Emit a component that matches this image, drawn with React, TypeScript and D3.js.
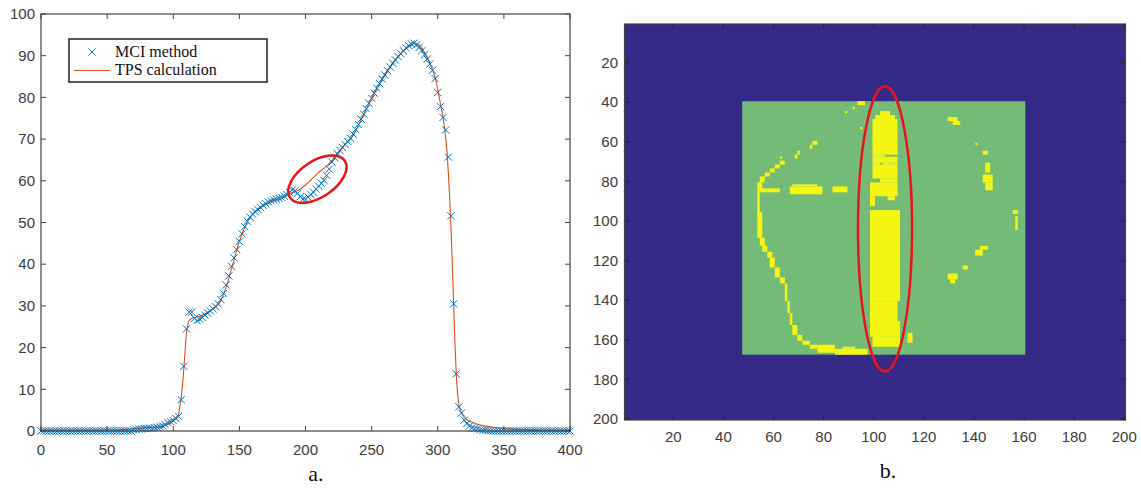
import React from "react";
import * as d3 from "d3";

// ---------- Panel a: MCI method vs TPS calculation ----------
const mciStep = 2; // x spacing of MCI samples (0..400)
const mciValues: number[] = [
  0, 0, 0, 0, 0, 0, 0, 0, 0, 0,
  0, 0, 0, 0, 0, 0, 0, 0, 0, 0,
  0, 0, 0, 0, 0, 0, 0, 0, 0, 0,
  0, 0, 0, 0, 0, 0.3, 0.4, 0.5, 0.5, 0.6,
  0.6, 0.7, 0.6, 0.8, 0.9, 1, 1.2, 1.5, 2, 2.2,
  2.5, 3, 3.5, 7.5, 15.5, 24.5, 28.5, 28.5, 27, 26.5,
  26.8, 27.2, 27.8, 28.3, 28.8, 29.3, 29.8, 30.5, 31.5, 33,
  35, 37.2, 39.5, 41.5, 43.5, 45.5, 47.3, 49, 50.3, 51.3,
  52, 52.6, 53.1, 53.6, 54.1, 54.5, 54.9, 55.2, 55.4, 55.6,
  55.8, 56, 56.3, 56.7, 57.2, 57.8, 57.6, 57, 56.2, 55.6,
  55.6, 56.1, 56.7, 57.3, 58, 58.7, 59.4, 60.1, 61.3, 62.8,
  64.5, 65.5, 66.5, 67.3, 68, 68.7, 69.4, 70.2, 71.2, 72.3,
  73.5, 74.8, 76, 77.3, 78.6, 79.8, 81, 82.2, 83.3, 84.4,
  85.4, 86.4, 87.3, 88.2, 89, 89.8, 90.5, 91.2, 91.9, 92.4,
  92.8, 93, 92.6, 92, 91.2, 90.2, 89.2, 88, 86.5, 84.5,
  81.2, 77.8, 75.2, 72.2, 65.7, 51.6, 30.5, 13.7, 5.8, 4.3,
  2.6, 1.8, 1.2, 0.8, 0.6, 0.5, 0.3, 0.2, 0.2, 0.1,
  0, 0, 0, 0, 0, 0, 0, 0, 0, 0,
  0, 0, 0, 0, 0, 0, 0, 0, 0, 0,
  0, 0, 0, 0, 0, 0, 0, 0, 0, 0,
  0,
];

const tpsX: number[] = [
  0, 20, 40, 60, 70, 80, 90, 95, 100, 103, 104, 105, 106, 107, 108, 109, 110, 111, 112, 114, 116, 120,
  125, 130, 135, 140, 145, 150, 155, 160, 165, 170, 175, 180, 185, 190, 195, 200, 205, 210, 215, 220,
  225, 230, 235, 240, 245, 250, 255, 260, 265, 270, 275, 280, 283, 286, 290, 294, 298, 302, 305, 307,
  308, 309, 310, 311, 312, 313, 314, 315, 316, 318, 320, 325, 330, 340, 350, 360, 380, 400,
];
const tpsY: number[] = [
  0.2, 0.2, 0.2, 0.3, 0.5, 0.8, 1, 1.5, 2.5, 3.5, 4, 6, 8, 11, 15, 19.5, 23.5, 25.5, 26.5, 27, 27.2, 27.5,
  28.3, 29.3, 30.8, 34.5, 40, 45.5, 49.5, 52, 53.5, 54.5, 55.2, 55.7, 56.3, 57.2, 57.8, 59, 60.5, 62, 63.3, 64.8,
  66.7, 68.8, 70.4, 73.3, 76.6, 79.8, 82.7, 85.4, 87.7, 89.8, 91.4, 92.6, 93, 92.5, 90.8, 88.2, 84.8, 78.5, 73, 67,
  62, 56, 49, 40, 30.5, 21, 13.7, 9, 6.3, 4.3, 3.3, 2.2, 1.6, 1, 0.6, 0.4, 0.25, 0.2,
];

const aXTicks = [0, 50, 100, 150, 200, 250, 300, 350, 400];
const aYTicks = [0, 10, 20, 30, 40, 50, 60, 70, 80, 90, 100];
const legendLabels = ["MCI method", "TPS calculation"];
const aHighlight = { x: 209, y: 60.4 }; // centre of red ellipse (data units)

// ---------- Panel b: labelled image (200 x 200) ----------
const imgSize = 200;
const bTicks = [20, 40, 60, 80, 100, 120, 140, 160, 180, 200];
// green region [colStart, colEnd, rowStart, rowEnd]
const greenRegion = [48, 160, 40, 167];
// yellow pixel blocks [colStart, colEnd, rowStart, rowEnd]
const yellowBlocks: number[][] = [
  // main vertical stripe
  [103, 106, 45, 46], [101, 108, 47, 48], [100, 109, 49, 66],
  [100, 104, 67, 67], [100, 109, 68, 70], [100, 102, 71, 71], [104, 109, 71, 71], [100, 109, 72, 78],
  [103, 109, 79, 80], [99, 109, 81, 87], [99, 100, 88, 92], [106, 108, 88, 89], [99, 110, 95, 140],
  [99, 109, 141, 150], [99, 110, 151, 158], [100, 110, 159, 163], [114, 115, 157, 161],
  // left outline
  [63, 64, 70, 71], [61, 62, 72, 73], [59, 60, 74, 75], [57, 58, 76, 77], [55, 56, 78, 80],
  [54, 55, 81, 84], [54, 54, 85, 95], [54, 55, 96, 108], [55, 56, 109, 112], [56, 57, 113, 115],
  [58, 59, 116, 118], [59, 60, 119, 123], [61, 62, 124, 128], [63, 64, 129, 131], [65, 65, 132, 140],
  [66, 66, 141, 146], [67, 67, 147, 152], [68, 69, 153, 157], [70, 71, 158, 160], [72, 74, 161, 162],
  [75, 77, 163, 164], [78, 84, 163, 166], [85, 97, 165, 167], [88, 92, 164, 164],
  // dashes and dots in the left half
  [55, 62, 84, 85], [68, 77, 82, 82], [67, 79, 83, 86], [84, 89, 83, 85],
  [76, 77, 60, 61], [75, 75, 62, 63], [70, 70, 65, 66], [69, 69, 67, 68], [63, 63, 68, 68],
  [89, 89, 45, 45], [92, 92, 43, 43], [95, 95, 53, 53], [94, 96, 40, 41],
  // right half speckles
  [130, 133, 48, 49], [132, 134, 50, 51], [141, 141, 61, 61], [144, 145, 65, 66], [145, 146, 71, 75],
  [144, 147, 77, 80], [145, 147, 81, 84], [156, 157, 95, 96], [157, 157, 98, 104], [143, 145, 113, 114],
  [141, 143, 115, 117], [136, 137, 123, 124], [130, 133, 127, 129], [131, 132, 130, 131],
];
const bHighlight = { col: 104.5, row: 104, rCol: 10.8, rRow: 72 };

const W = 1141;
const H = 488;

export default function App() {
  // panel a scales
  const xA = d3.scaleLinear().domain([0, 400]).range([41, 570]);
  const yA = d3.scaleLinear().domain([0, 100]).range([431, 14]);
  const mciPts = mciValues.map((v, i) => [i * mciStep, v] as [number, number]);
  const tpsPts = tpsX.map((x, i) => [x, tpsY[i]] as [number, number]);
  const line = d3
    .line<[number, number]>()
    .x((d) => xA(d[0]))
    .y((d) => yA(d[1]))
    .curve(d3.curveMonotoneX);

  // panel b scales
  const xB = d3.scaleLinear().domain([0.5, imgSize + 0.5]).range([624.5, 1125.5]);
  const yB = d3.scaleLinear().domain([0.5, imgSize + 0.5]).range([24, 420]);
  const cellRect = (b: number[]) => ({
    x: xB(b[0] - 0.5),
    y: yB(b[2] - 0.5),
    width: xB(b[1] + 0.5) - xB(b[0] - 0.5),
    height: yB(b[3] + 0.5) - yB(b[2] - 0.5),
  });

  const axisColor = "#444";
  const tickText = "#3c3c3c";
  const tickFont = "'Liberation Sans', Arial, sans-serif";
  const serif = "'Liberation Serif', 'Times New Roman', serif";
  const m = 3.6; // marker half size

  const g = cellRect(greenRegion);

  return (
    <svg
      width={W}
      height={H}
      style={{ position: "absolute", left: 0, top: 0, background: "#fff" }}
      xmlns="http://www.w3.org/2000/svg"
    >
      {/* ================= Panel a ================= */}
      <g>
        <path d={line(tpsPts) || ""} fill="none" stroke="#D95319" strokeWidth={1.1} />
        {mciPts.map((d, i) => {
          const cx = xA(d[0]);
          const cy = yA(d[1]);
          return (
            <path
              key={i}
              d={`M${cx - m},${cy - m}L${cx + m},${cy + m}M${cx - m},${cy + m}L${cx + m},${cy - m}`}
              stroke="#0072BD"
              strokeWidth={1}
              fill="none"
            />
          );
        })}
        {/* frame */}
        <rect
          x={xA(0)}
          y={yA(100)}
          width={xA(400) - xA(0)}
          height={yA(0) - yA(100)}
          fill="none"
          stroke={axisColor}
          strokeWidth={1.2}
        />
        {aXTicks.map((t) => (
          <g key={"ax" + t}>
            <line x1={xA(t)} x2={xA(t)} y1={yA(0)} y2={yA(0) - 5} stroke={axisColor} />
            <line x1={xA(t)} x2={xA(t)} y1={yA(100)} y2={yA(100) + 5} stroke={axisColor} />
            <text x={xA(t)} y={455} textAnchor="middle" fontFamily={tickFont} fontSize={15} fill={tickText}>
              {t}
            </text>
          </g>
        ))}
        {aYTicks.map((t) => (
          <g key={"ay" + t}>
            <line x1={xA(0)} x2={xA(0) + 5} y1={yA(t)} y2={yA(t)} stroke={axisColor} />
            <line x1={xA(400)} x2={xA(400) - 5} y1={yA(t)} y2={yA(t)} stroke={axisColor} />
            <text x={35} y={yA(t)} dy="0.35em" textAnchor="end" fontFamily={tickFont} fontSize={15} fill={tickText}>
              {t}
            </text>
          </g>
        ))}
        {/* legend */}
        <rect x={69} y={39} width={198} height={43} fill="#fff" stroke="#222" strokeWidth={1.5} />
        <path
          d={`M${92 - m},${52 - m}L${92 + m},${52 + m}M${92 - m},${52 + m}L${92 + m},${52 - m}`}
          stroke="#0072BD"
          strokeWidth={1}
        />
        <line x1={74} x2={110} y1={70.5} y2={70.5} stroke="#D95319" strokeWidth={1.1} />
        <text x={115} y={57} fontFamily={serif} fontSize={16} fill="#111">
          {legendLabels[0]}
        </text>
        <text x={115} y={75} fontFamily={serif} fontSize={16} fill="#111">
          {legendLabels[1]}
        </text>
        {/* highlight */}
        <ellipse
          cx={xA(aHighlight.x)}
          cy={yA(aHighlight.y)}
          rx={33}
          ry={18}
          transform={`rotate(-34 ${xA(aHighlight.x)} ${yA(aHighlight.y)})`}
          fill="none"
          stroke="#e8141b"
          strokeWidth={2.5}
        />
        <text x={316} y={481} textAnchor="middle" fontFamily={serif} fontSize={22} fill="#111">
          a.
        </text>
      </g>

      {/* ================= Panel b ================= */}
      <g>
        <rect
          x={xB(0.5)}
          y={yB(0.5)}
          width={xB(imgSize + 0.5) - xB(0.5)}
          height={yB(imgSize + 0.5) - yB(0.5)}
          fill="#352A87"
        />
        <rect x={g.x} y={g.y} width={g.width} height={g.height} fill="#74BB78" />
        {yellowBlocks.map((b, i) => {
          const r = cellRect(b);
          return <rect key={i} x={r.x} y={r.y} width={r.width} height={r.height} fill="#F5F512" />;
        })}
        <rect
          x={xB(0.5)}
          y={yB(0.5)}
          width={xB(imgSize + 0.5) - xB(0.5)}
          height={yB(imgSize + 0.5) - yB(0.5)}
          fill="none"
          stroke={axisColor}
          strokeWidth={1.2}
        />
        {bTicks.map((t) => (
          <g key={"bx" + t}>
            <line x1={xB(t)} x2={xB(t)} y1={yB(imgSize + 0.5)} y2={yB(imgSize + 0.5) - 5} stroke="#262626" />
            <line x1={xB(t)} x2={xB(t)} y1={yB(0.5)} y2={yB(0.5) + 5} stroke="#262626" />
            <text x={xB(t)} y={442} textAnchor="middle" fontFamily={tickFont} fontSize={15} fill={tickText}>
              {t}
            </text>
          </g>
        ))}
        {bTicks.map((t) => (
          <g key={"by" + t}>
            <line x1={xB(0.5)} x2={xB(0.5) + 5} y1={yB(t)} y2={yB(t)} stroke="#262626" />
            <line x1={xB(imgSize + 0.5)} x2={xB(imgSize + 0.5) - 5} y1={yB(t)} y2={yB(t)} stroke="#262626" />
            <text x={618} y={yB(t)} dy="0.35em" textAnchor="end" fontFamily={tickFont} fontSize={15} fill={tickText}>
              {t}
            </text>
          </g>
        ))}
        <ellipse
          cx={xB(bHighlight.col)}
          cy={yB(bHighlight.row)}
          rx={xB(bHighlight.col + bHighlight.rCol) - xB(bHighlight.col)}
          ry={yB(bHighlight.row + bHighlight.rRow) - yB(bHighlight.row)}
          fill="none"
          stroke="#e8141b"
          strokeWidth={2.5}
        />
        <text x={888} y={478} textAnchor="middle" fontFamily={serif} fontSize={22} fill="#111">
          b.
        </text>
      </g>
    </svg>
  );
}
